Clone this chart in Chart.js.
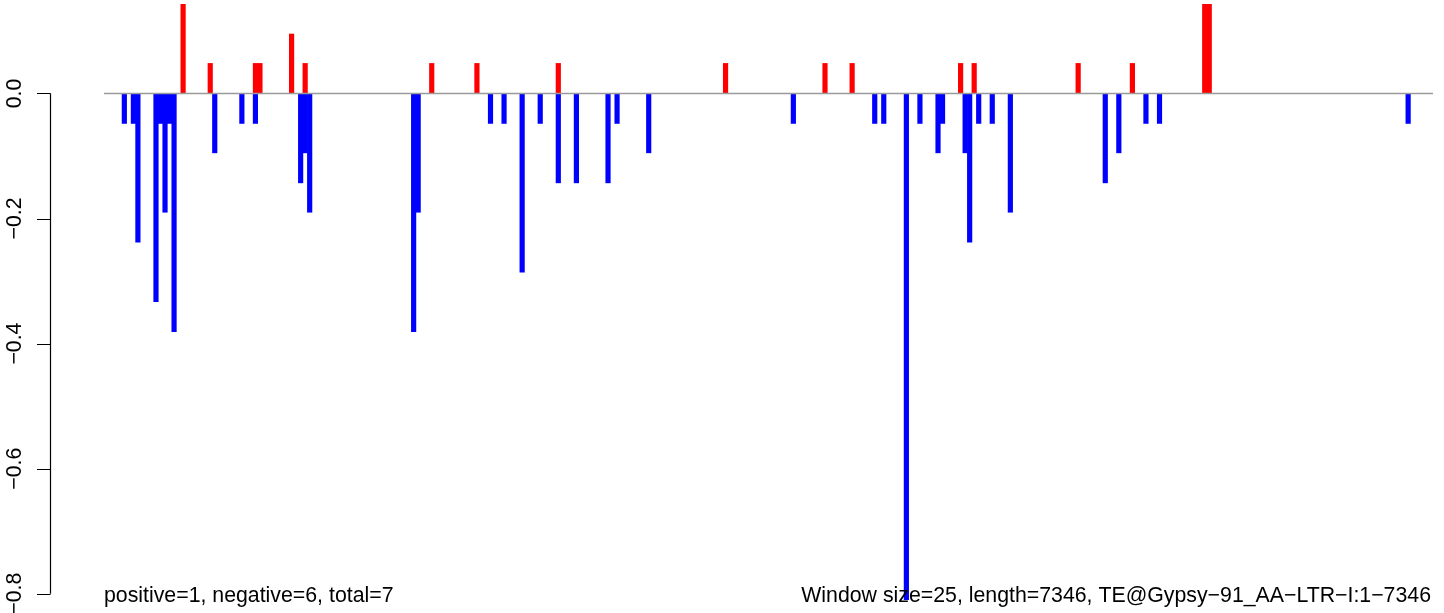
<!DOCTYPE html>
<html>
<head>
<meta charset="utf-8">
<script src="https://cdn.jsdelivr.net/npm/chart.js@4"></script>
<style>
  html, body { margin: 0; padding: 0; background: #fff; }
  #wrap { width: 1444px; height: 613px; }
</style>
</head>
<body>
<div id="wrap"><canvas id="myChart" width="1444" height="613"></canvas></div>
<script>
// window count: length 7346 / window size 25
const windowCount = 294
// windows (0-based) with a positive score, and the scores
const posWindows = [17, 23, 33, 34, 41, 44, 72, 82, 100, 137, 159, 165, 189, 192, 215, 227, 243, 244]
const posValues  = [0.143, 0.048, 0.048, 0.048, 0.095, 0.048, 0.048, 0.048, 0.048, 0.048, 0.048, 0.048, 0.048, 0.048, 0.048, 0.048, 0.143, 0.143]
// windows with a negative score, and the scores
const negWindows = [4, 6, 7, 11, 12, 13, 14, 15, 24, 30, 33, 43, 44, 45, 68, 69, 85, 88, 92, 96,
  100, 104, 111, 113, 120, 152, 170, 172, 177, 180, 184, 185, 190, 191, 193, 196, 200, 221, 224, 230, 233, 288]
const negValues  = [-0.048, -0.048, -0.238, -0.333, -0.048, -0.190, -0.048, -0.381, -0.095, -0.048, -0.048, -0.143, -0.095, -0.190, -0.381, -0.190, -0.048, -0.048, -0.286, -0.048,
  -0.143, -0.143, -0.143, -0.048, -0.095, -0.048, -0.048, -0.048, -0.810, -0.048, -0.095, -0.048, -0.095, -0.238, -0.048, -0.048, -0.190, -0.143, -0.095, -0.048, -0.048, -0.048]
const yTicks = [0, -0.2, -0.4, -0.6, -0.8]
const yTickLabels = ["0.0", "\u22120.2", "\u22120.4", "\u22120.6", "\u22120.8"]
const leftNote = "positive=1, negative=6, total=7"
const rightNote = "Window size=25, length=7346, TE@Gypsy\u221291_AA\u2212LTR\u2212I:1\u22127346"

const FONT = '21.3px "Liberation Sans", Arial, sans-serif'

const labels = []
for (let i = 0; i < windowCount; i++) labels.push(i + 1)
const posData = new Array(windowCount).fill(null)
posWindows.forEach((w, i) => { posData[w] = posValues[i] })
const negData = new Array(windowCount).fill(null)
negWindows.forEach((w, i) => { negData[w] = negValues[i] })

// R-style left axis, zero line and the two footnotes
const rDecor = {
  id: 'rDecor',
  afterDatasetsDraw(chart) {
    const c = chart.ctx
    const y = chart.scales.y
    const area = chart.chartArea
    c.save()
    // gray zero line
    c.strokeStyle = '#9a9a9a'
    c.lineWidth = 1.6
    const y0 = y.getPixelForValue(0)
    c.beginPath()
    c.moveTo(area.left, y0)
    c.lineTo(area.right, y0)
    c.stroke()
    // axis
    c.strokeStyle = '#000'
    c.lineWidth = 1.2
    const ax = 50.5
    c.beginPath()
    c.moveTo(ax, y.getPixelForValue(yTicks[0]))
    c.lineTo(ax, y.getPixelForValue(yTicks[yTicks.length - 1]))
    yTicks.forEach(t => {
      const py = Math.round(y.getPixelForValue(t)) + 0.5
      c.moveTo(37, py)
      c.lineTo(ax, py)
    })
    c.stroke()
    c.fillStyle = '#000'
    c.font = FONT
    c.textAlign = 'center'
    c.textBaseline = 'alphabetic'
    yTicks.forEach((t, i) => {
      c.save()
      c.translate(21, y.getPixelForValue(t))
      c.rotate(-Math.PI / 2)
      c.fillText(yTickLabels[i], 0, 0)
      c.restore()
    })
    // footnotes
    c.textAlign = 'left'
    c.fillText(leftNote, 104, 602)
    c.textAlign = 'right'
    c.fillText(rightNote, 1431, 602)
    c.restore()
  }
}

const ctx = document.getElementById('myChart').getContext('2d')
const myChart = new Chart(ctx, {
  type: 'bar',
  data: {
    labels: labels,
    datasets: [
      { label: 'positive', data: posData, backgroundColor: '#ff0000', borderWidth: 0, barPercentage: 1, categoryPercentage: 1 },
      { label: 'negative', data: negData, backgroundColor: '#0000ff', borderWidth: 0, barPercentage: 1, categoryPercentage: 1 }
    ]
  },
  options: {
    responsive: false,
    animation: false,
    layout: { padding: { left: 104, right: 11, top: 4, bottom: 13 } },
    plugins: { legend: { display: false }, tooltip: { enabled: false } },
    scales: {
      x: { display: false, stacked: true },
      y: { display: false, stacked: true, min: -0.81, max: 0.143 }
    }
  },
  plugins: [rDecor]
})
</script>
</body>
</html>
